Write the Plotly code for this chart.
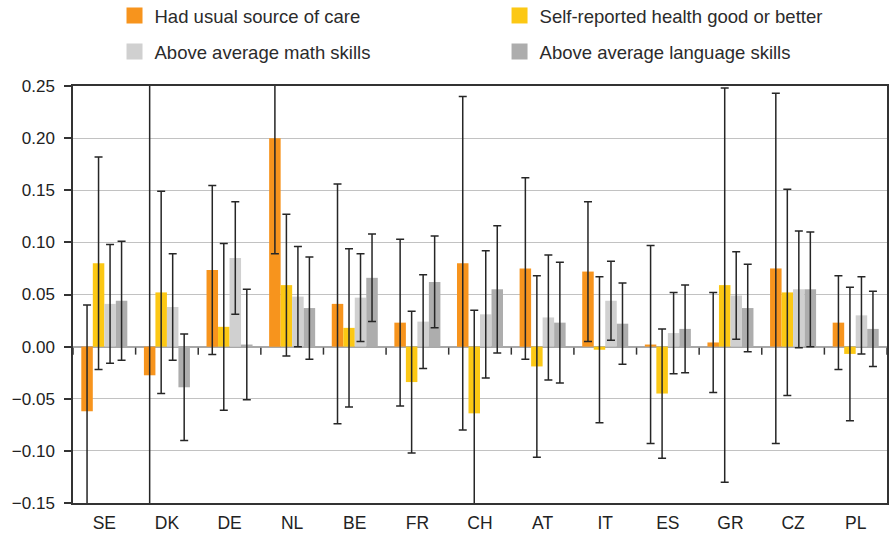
import plotly.graph_objects as go

countries = ["SE", "DK", "DE", "NL", "BE", "FR", "CH", "AT", "IT", "ES", "GR", "CZ", "PL"]

care = [-0.062, -0.0275, 0.0735, 0.200, 0.041, 0.023, 0.080, 0.075, 0.072, 0.002, 0.004, 0.075, 0.023]
care_err = [0.102, 0.300, 0.081, 0.111, 0.115, 0.080, 0.160, 0.087, 0.067, 0.095, 0.048, 0.168, 0.045]

health = [0.080, 0.052, 0.019, 0.059, 0.018, -0.034, -0.064, -0.019, -0.003, -0.045, 0.059, 0.052, -0.007]
health_err = [0.102, 0.097, 0.080, 0.068, 0.076, 0.068, 0.099, 0.087, 0.070, 0.062, 0.189, 0.099, 0.064]

math = [0.041, 0.038, 0.085, 0.048, 0.047, 0.024, 0.031, 0.028, 0.044, 0.013, 0.049, 0.055, 0.030]
math_err = [0.057, 0.051, 0.054, 0.048, 0.042, 0.045, 0.061, 0.060, 0.038, 0.039, 0.042, 0.056, 0.037]

language = [0.044, -0.039, 0.002, 0.037, 0.066, 0.062, 0.055, 0.023, 0.022, 0.017, 0.037, 0.055, 0.017]
language_err = [0.057, 0.051, 0.053, 0.049, 0.042, 0.044, 0.061, 0.058, 0.039, 0.042, 0.042, 0.055, 0.036]

series_names = ["Had usual source of care", "Self-reported health good or better",
                "Above average math skills", "Above average language skills"]
series_vals = [care, health, math, language]
series_errs = [care_err, health_err, math_err, language_err]
colors = ["#F7941D", "#FCC814", "#D0D0D0", "#ADADAD"]
legend_ids = ["legend", "legend2", "legend3", "legend4"]
# legend grid placement (column, row)
legend_x = [0.051, 0.524, 0.051, 0.524]
legend_y = [1.168, 1.168, 1.0815, 1.0815]

fig = go.Figure()
for name, vals, errs, color in zip(series_names, series_vals, series_errs, colors):
    fig.add_trace(go.Bar(
        x=countries, y=vals, name=name, marker_color=color, marker_line_width=0,
        showlegend=False,
        error_y=dict(type="data", array=errs, symmetric=True, color="#262626",
                     thickness=1.5, width=4),
    ))
for name, color, lg in zip(series_names, colors, legend_ids):
    fig.add_trace(go.Scatter(
        x=[None], y=[None], mode="markers", name=name, legend=lg,
        marker=dict(symbol="square", size=16, color=color),
    ))

# small category-boundary tick marks on the zero line
for i in range(len(countries) + 1):
    fig.add_shape(type="line", xref="x", yref="y", x0=i - 0.5, x1=i - 0.5,
                  ysizemode="pixel", yanchor=0, y0=-1, y1=-8,
                  line=dict(color="#333333", width=1.5))

font_family = "Liberation Sans, Arial, sans-serif"
legend_layout = {}
for lg, lx, ly in zip(legend_ids, legend_x, legend_y):
    legend_layout[lg] = dict(
        x=lx, y=ly, xanchor="left", yanchor="middle", orientation="h",
        font=dict(family=font_family, size=18.5, color="#2b2b2b"),
        bgcolor="rgba(0,0,0,0)", borderwidth=0, itemclick=False,
    )

fig.update_layout(
    width=889, height=534,
    margin=dict(l=73, r=2, t=86, b=31, autoexpand=False),
    paper_bgcolor="white", plot_bgcolor="white",
    barmode="group", bargap=0.265, bargroupgap=0,
    font=dict(family=font_family, size=16, color="#222222"),
    xaxis=dict(
        type="category", range=[-0.5, len(countries) - 0.5],
        showline=True, mirror=True, linecolor="#333333", linewidth=1.5,
        ticks="", showgrid=False, zeroline=False,
        tickfont=dict(size=17.5, color="#222222"),
        ticklabelstandoff=3,
    ),
    yaxis=dict(
        range=[-0.15, 0.25], dtick=0.05, tick0=0, tickformat=".2f",
        showline=True, mirror=True, linecolor="#333333", linewidth=1.5,
        ticks="outside", ticklen=7, tickwidth=1.5, tickcolor="#333333",
        ticklabelstandoff=6,
        showgrid=True, gridcolor="#C2C2C2", gridwidth=1.2,
        zeroline=True, zerolinecolor="#A8A8A8", zerolinewidth=1.5,
        tickfont=dict(size=17, color="#222222"),
    ),
    **legend_layout,
)

fig.write_html("out.html", config={"displayModeBar": False},
               post_script="document.body.style.margin='0';")
